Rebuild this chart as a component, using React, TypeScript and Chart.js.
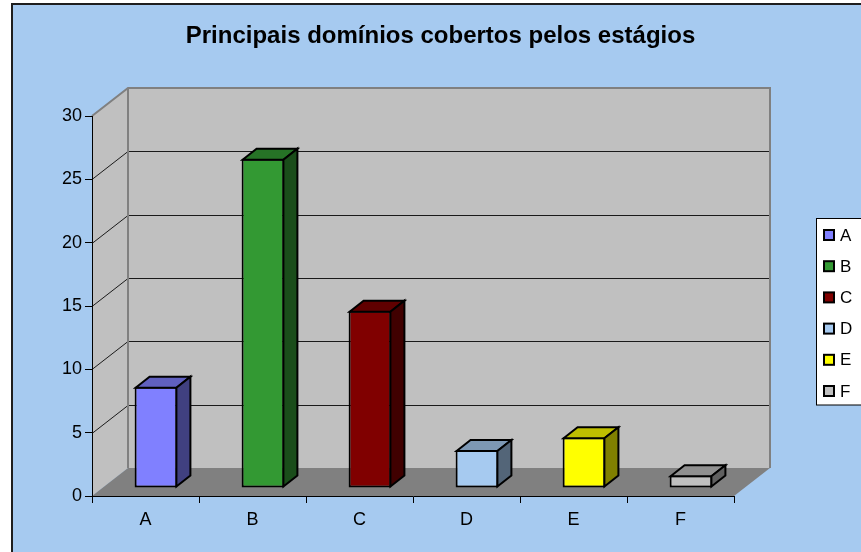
import React, { useEffect, useRef } from "react";
import { Chart, registerables } from "chart.js";

Chart.register(...registerables);

const categories = ["A", "B", "C", "D", "E", "F"];
const values = [8, 26, 14, 3, 4, 1];
const barColors = ["#8080ff", "#339933", "#800000", "#a6caf0", "#ffff00", "#c0c0c0"];
const yTickValues = [0, 5, 10, 15, 20, 25, 30];
const chartTitle = "Principais domínios cobertos pelos estágios";

const W = 861;
const H = 552;
const FONT = "'Liberation Sans', Arial, sans-serif";

// 3D geometry
const WALL_DX = 36;
const WALL_DY = 28;
const BAR_SHIFT_X = 10.5;
const BAR_SHIFT_Y = 8;
const BAR_DX = 14;
const BAR_DY = 11;

function shade(hex: string, f: number): string {
  const n = parseInt(hex.slice(1), 16);
  const r = Math.round(((n >> 16) & 255) * f);
  const g = Math.round(((n >> 8) & 255) * f);
  const b = Math.round((n & 255) * f);
  return `rgb(${r},${g},${b})`;
}

function poly(ctx: CanvasRenderingContext2D, pts: number[][]) {
  ctx.beginPath();
  ctx.moveTo(pts[0][0], pts[0][1]);
  for (let i = 1; i < pts.length; i++) ctx.lineTo(pts[i][0], pts[i][1]);
  ctx.closePath();
}

const scenePlugin = {
  id: "scene3d",
  beforeDraw(chart: any) {
    const ctx: CanvasRenderingContext2D = chart.ctx;
    const { left, right, top, bottom } = chart.chartArea;
    const ys = chart.scales.y;
    ctx.save();
    // page + chart box
    ctx.fillStyle = "#ffffff";
    ctx.fillRect(0, 0, chart.width, chart.height);
    ctx.fillStyle = "#a6caf0";
    ctx.fillRect(11, 3, chart.width - 11, chart.height - 3);
    ctx.strokeStyle = "#1e1e1e";
    ctx.lineWidth = 2;
    ctx.beginPath();
    ctx.moveTo(12, chart.height);
    ctx.lineTo(12, 4);
    ctx.lineTo(chart.width, 4);
    ctx.stroke();

    const bl = left + WALL_DX;
    const br = right + WALL_DX;
    const bt = top - WALL_DY;
    const bb = bottom - WALL_DY;

    // back wall
    ctx.fillStyle = "#c0c0c0";
    ctx.fillRect(bl, bt, br - bl, bb - bt);
    // side wall
    poly(ctx, [[left, top], [bl, bt], [bl, bb], [left, bottom]]);
    ctx.fill();
    // floor
    ctx.fillStyle = "#808080";
    poly(ctx, [[left, bottom], [right, bottom], [br, bb], [bl, bb]]);
    ctx.fill();

    // gridlines on walls
    ctx.strokeStyle = "#1a1a1a";
    ctx.lineWidth = 1;
    const maxV = yTickValues[yTickValues.length - 1];
    for (const v of yTickValues) {
      if (v === 0 || v === maxV) continue;
      const yf = Math.round(ys.getPixelForValue(v)) + 0.5;
      ctx.beginPath();
      ctx.moveTo(left, yf);
      ctx.lineTo(bl, yf - WALL_DY);
      ctx.lineTo(br, yf - WALL_DY);
      ctx.stroke();
    }

    // wall borders
    ctx.strokeStyle = "#808080";
    ctx.lineWidth = 2;
    ctx.beginPath();
    ctx.moveTo(left, top);
    ctx.lineTo(bl, bt);
    ctx.lineTo(br, bt);
    ctx.lineTo(br, bb);
    ctx.moveTo(bl, bt);
    ctx.lineTo(bl, bb);
    ctx.stroke();
    ctx.restore();
  },
  beforeDatasetsDraw(chart: any) {
    chart.ctx.save();
    chart.ctx.translate(BAR_SHIFT_X, -BAR_SHIFT_Y);
  },
  afterDatasetsDraw(chart: any) {
    const ctx: CanvasRenderingContext2D = chart.ctx;
    const meta = chart.getDatasetMeta(0);
    ctx.lineJoin = "miter";
    meta.data.forEach((el: any, i: number) => {
      const p = el.getProps(["x", "y", "base", "width"], true);
      const L = p.x - p.width / 2 + 1;
      const R = p.x + p.width / 2 - 1;
      const T = Math.min(p.y, p.base) + 1;
      const B = Math.max(p.y, p.base) - 1;
      const col = barColors[i];
      // top face
      poly(ctx, [[L, T], [L + BAR_DX, T - BAR_DY], [R + BAR_DX, T - BAR_DY], [R, T]]);
      ctx.fillStyle = shade(col, 0.75);
      ctx.fill();
      ctx.strokeStyle = "#000";
      ctx.lineWidth = 2;
      ctx.stroke();
      // side face
      poly(ctx, [[R, T], [R + BAR_DX, T - BAR_DY], [R + BAR_DX, B - BAR_DY], [R, B]]);
      ctx.fillStyle = shade(col, 0.5);
      ctx.fill();
      ctx.stroke();
    });
    ctx.restore();
  },
  afterDraw(chart: any) {
    const ctx: CanvasRenderingContext2D = chart.ctx;
    ctx.save();
    // title
    ctx.fillStyle = "#000";
    ctx.font = `bold 24px ${FONT}`;
    ctx.textAlign = "center";
    ctx.textBaseline = "alphabetic";
    ctx.fillText(chartTitle, 440.5, 43);

    // legend
    const lx = 816.5;
    const ly = 218.5;
    const lh = 186.5;
    ctx.fillStyle = "#ffffff";
    ctx.fillRect(lx, ly, chart.width - lx + 5, lh);
    ctx.strokeStyle = "#000";
    ctx.lineWidth = 1;
    ctx.strokeRect(lx, ly, chart.width - lx + 5, lh);
    const labels: string[] = chart.data.labels;
    const bg: string[] = chart.data.datasets[0].backgroundColor;
    ctx.font = `17px ${FONT}`;
    ctx.textAlign = "left";
    ctx.textBaseline = "middle";
    labels.forEach((lab, i) => {
      const cy = 235 + i * 31.2;
      ctx.fillStyle = bg[i];
      ctx.fillRect(824, cy - 5, 10, 10);
      ctx.strokeStyle = "#000";
      ctx.lineWidth = 2;
      ctx.strokeRect(824, cy - 5, 10, 10);
      ctx.fillStyle = "#000";
      ctx.fillText(lab, 840, cy + 1);
    });
    ctx.restore();
  },
};

export default function App() {
  const ref = useRef<HTMLCanvasElement | null>(null);

  useEffect(() => {
    document.body.style.margin = "0";
    const canvas = ref.current;
    if (!canvas) return;
    const chart = new Chart(canvas, {
      type: "bar",
      data: {
        labels: categories,
        datasets: [
          {
            label: "Domínios",
            data: values,
            backgroundColor: barColors,
            borderColor: "#000000",
            borderWidth: 2,
            borderSkipped: false,
            barPercentage: 0.4,
            categoryPercentage: 1,
            clip: false as any,
          },
        ],
      },
      options: {
        responsive: false,
        animation: false,
        devicePixelRatio: 1,
        layout: { padding: { left: 0, top: 116, right: 127, bottom: 0 } },
        plugins: {
          legend: { display: false },
          title: { display: false },
          tooltip: { enabled: false },
        },
        scales: {
          x: {
            type: "category",
            grid: {
              offset: true,
              drawOnChartArea: false,
              drawTicks: true,
              tickLength: 7,
              color: "#000",
            },
            border: { display: true, color: "#000", width: 1 },
            ticks: {
              color: "#000",
              font: { family: FONT, size: 18 },
              padding: 6,
              maxRotation: 0,
            },
            afterFit(scale: any) {
              scale.height = 56;
            },
          },
          y: {
            min: 0,
            max: 30,
            afterBuildTicks(scale: any) {
              scale.ticks = yTickValues.map((v) => ({ value: v }));
            },
            grid: {
              drawOnChartArea: false,
              drawTicks: true,
              tickLength: 7,
              color: "#000",
            },
            border: { display: true, color: "#000", width: 1 },
            ticks: {
              color: "#000",
              font: { family: FONT, size: 18 },
              padding: 3,
            },
            afterFit(scale: any) {
              scale.width = 92;
            },
          },
        },
      },
      plugins: [scenePlugin],
    });
    return () => chart.destroy();
  }, []);

  return (
    <div style={{ width: W, height: H, margin: 0, padding: 0 }}>
      <canvas ref={ref} width={W} height={H} style={{ display: "block" }} />
    </div>
  );
}
